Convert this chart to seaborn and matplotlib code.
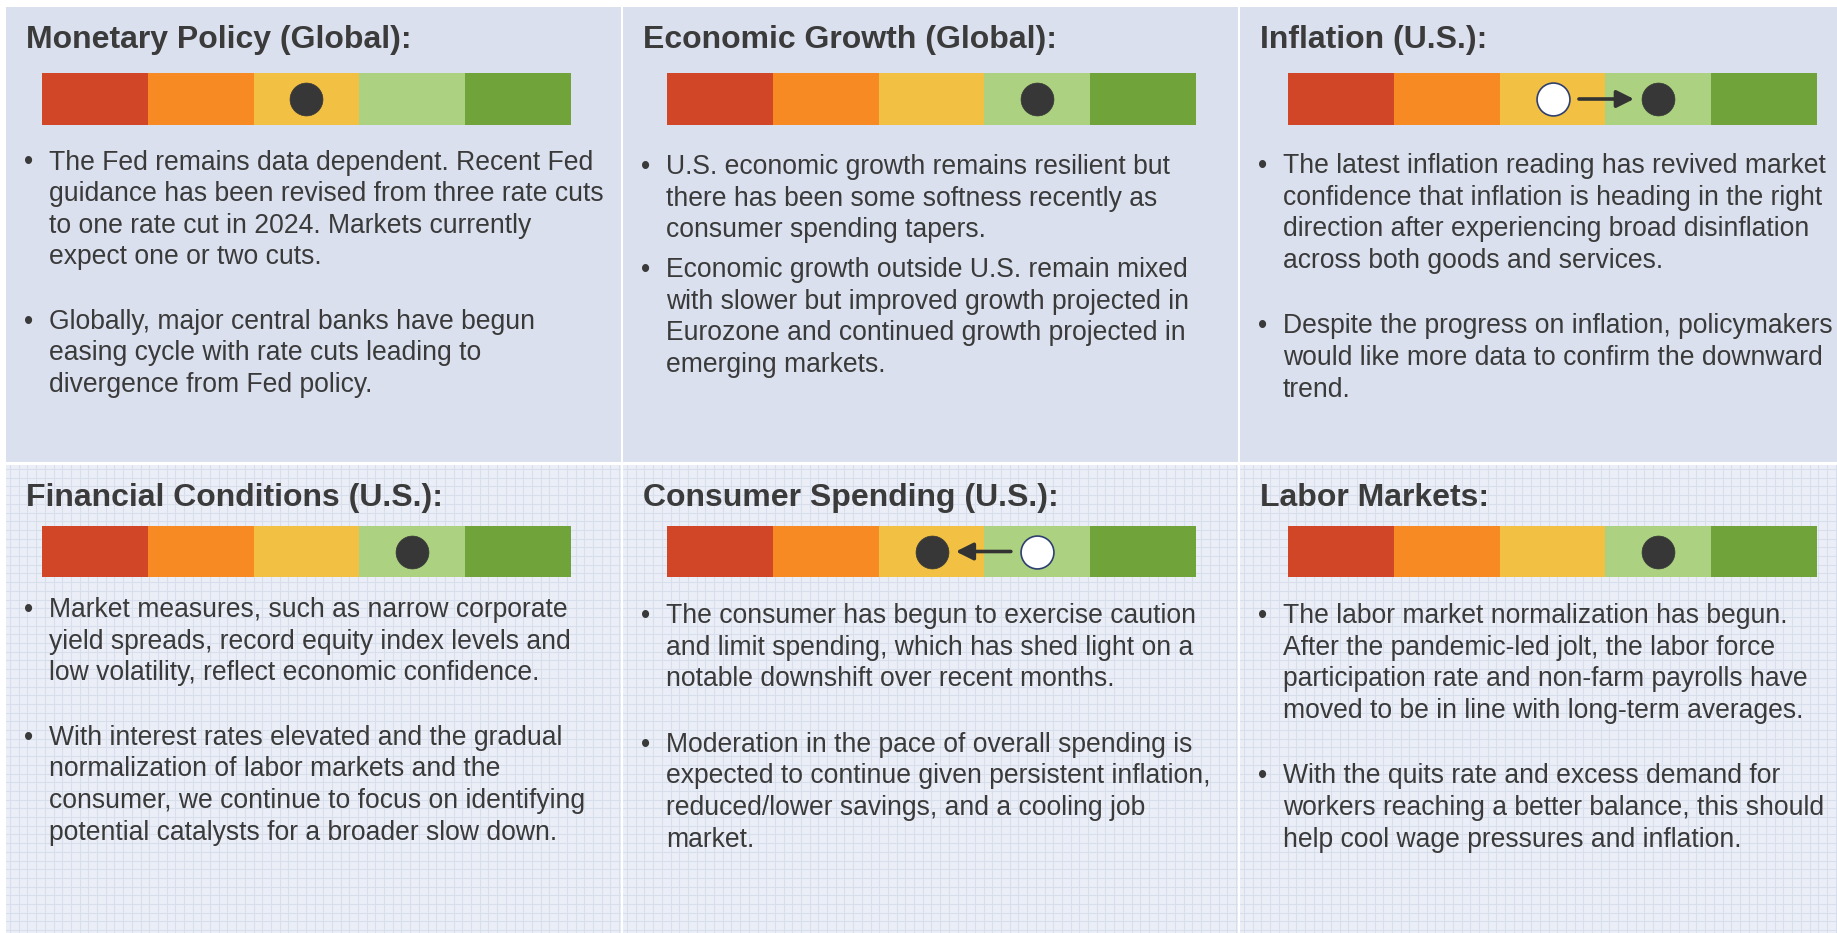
import numpy as np
import matplotlib
matplotlib.use("Agg")
import matplotlib.pyplot as plt
from matplotlib.colors import ListedColormap
import seaborn as sns

# panel content
titles = [
    "Monetary Policy (Global):",
    "Economic Growth (Global):",
    "Inflation (U.S.):",
    "Financial Conditions (U.S.):",
    "Consumer Spending (U.S.):",
    "Labor Markets:",
]
gauge_colors = ["#D04627", "#F88A24", "#F2C143", "#ACD281", "#70A43A"]
current_level = [2, 3, 3, 3, 2, 3]
previous_level = [None, None, 2, None, 3, None]

bullets = [
    [["The Fed remains data dependent. Recent Fed",
      "guidance has been revised from three rate cuts",
      "to one rate cut in 2024. Markets currently",
      "expect one or two cuts."],
     ["Globally, major central banks have begun",
      "easing cycle with rate cuts leading to",
      "divergence from Fed policy."]],
    [["U.S. economic growth remains resilient but",
      "there has been some softness recently as",
      "consumer spending tapers."],
     ["Economic growth outside U.S. remain mixed",
      "with slower but improved growth projected in",
      "Eurozone and continued growth projected in",
      "emerging markets."]],
    [["The latest inflation reading has revived market",
      "confidence that inflation is heading in the right",
      "direction after experiencing broad disinflation",
      "across both goods and services."],
     ["Despite the progress on inflation, policymakers",
      "would like more data to confirm the downward",
      "trend."]],
    [["Market measures, such as narrow corporate",
      "yield spreads, record equity index levels and",
      "low volatility, reflect economic confidence."],
     ["With interest rates elevated and the gradual",
      "normalization of labor markets and the",
      "consumer, we continue to focus on identifying",
      "potential catalysts for a broader slow down."]],
    [["The consumer has begun to exercise caution",
      "and limit spending, which has shed light on a",
      "notable downshift over recent months."],
     ["Moderation in the pace of overall spending is",
      "expected to continue given persistent inflation,",
      "reduced/lower savings, and a cooling job",
      "market."]],
    [["The labor market normalization has begun.",
      "After the pandemic-led jolt, the labor force",
      "participation rate and non-farm payrolls have",
      "moved to be in line with long-term averages."],
     ["With the quits rate and excess demand for",
      "workers reaching a better balance, this should",
      "help cool wage pressures and inflation."]],
]

sns.set_style("white")
plt.rcParams["font.family"] = ["Liberation Sans", "DejaVu Sans"]

W, H = 1837, 933
fig = plt.figure(figsize=(W / 100, H / 100), dpi=100)
fig.patch.set_facecolor("white")

col_x = [(6, 621), (623, 1238), (1240, 1837)]
row_y = [(7, 462), (465, 933)]
gauge_left = [36, 44, 48]
gauge_top = [66, 61]
gauge_h = [52, 51]
gauge_w = 529
first_base = [162.5, 167.2, 166, 152, 158, 158]
bullet_gap = [33, 8, 34, 33, 34, 34]
line_pitch = 31.6
text_col = "#3A3A3A"
body_size = 19.1


def box(x, y, w, h):
    return [x / W, 1 - (y + h) / H, w / W, h / H]


for i in range(6):
    r, c = divmod(i, 3)
    x0, x1 = col_x[c]
    y0, y1 = row_y[r]
    pw, ph = x1 - x0, y1 - y0

    ax = fig.add_axes(box(x0, y0, pw, ph))
    ax.set_xlim(0, pw)
    ax.set_ylim(ph, 0)
    for s in ax.spines.values():
        s.set_visible(False)
    if r == 0:
        ax.set_facecolor("#DAE0EE")
        ax.set_xticks([])
        ax.set_yticks([])
    else:
        # graph-paper texture of the lower row
        ax.set_facecolor("#EBEEF7")
        ax.set_xticks(np.arange(4, pw, 8.7))
        ax.set_yticks(np.arange(4, ph, 8.7))
        ax.grid(True, color="#D8DEEC", lw=0.8)
        ax.tick_params(length=0, labelbottom=False, labelleft=False)

    ax.text(20, 41, titles[i], fontsize=23, fontweight="bold",
            color="#3B3B3B", va="baseline", ha="left")

    y = first_base[i]
    for k, para in enumerate(bullets[i]):
        if k > 0:
            y += bullet_gap[i]
        ax.text(23, y, "\u2022", fontsize=body_size, color=text_col,
                va="baseline", ha="center")
        for line in para:
            ax.text(43, y, line, fontsize=body_size, color=text_col,
                    va="baseline", ha="left")
            y += line_pitch

    # gauge
    gax = fig.add_axes(box(x0 + gauge_left[c], y0 + gauge_top[r], gauge_w, gauge_h[r]))
    sns.heatmap(np.arange(5)[None, :], cmap=ListedColormap(gauge_colors),
                cbar=False, ax=gax, xticklabels=False, yticklabels=False,
                vmin=-0.5, vmax=4.5)
    cur = current_level[i]
    prev = previous_level[i]
    if prev is not None:
        d = np.sign(cur - prev)
        gax.annotate("", xy=(cur + 0.5 - d * 0.23, 0.5),
                     xytext=(prev + 0.5 + d * 0.25, 0.5),
                     arrowprops=dict(arrowstyle="-|>", color="#333333", lw=2.6,
                                     mutation_scale=26, shrinkA=0, shrinkB=0))
        sns.scatterplot(x=[prev + 0.5], y=[0.5], ax=gax, s=560, color="white",
                        edgecolor="#2F3F6F", linewidth=1.2, zorder=3)
    sns.scatterplot(x=[cur + 0.5], y=[0.5], ax=gax, s=560, color="#373737",
                    edgecolor="#373737", linewidth=0.5, zorder=3)
    gax.set_xlim(0, 5)
    gax.set_ylim(1, 0)
    gax.set_xlabel("")
    gax.set_ylabel("")

fig.savefig("out.png", dpi=100, facecolor="white")
